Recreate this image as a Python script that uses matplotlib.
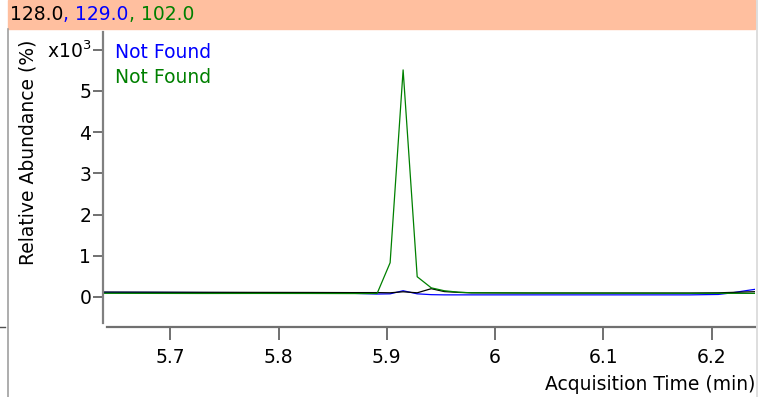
import matplotlib.pyplot as plt
from matplotlib.lines import Line2D
from matplotlib.patches import Rectangle

# retention times (min) and abundances (counts)
times = [5.631, 5.68, 5.73, 5.78, 5.83, 5.866, 5.878, 5.891, 5.903, 5.915,
         5.928, 5.941, 5.953, 5.966, 5.978, 6.03, 6.08, 6.13, 6.18, 6.206,
         6.219, 6.231, 6.244]
black_128 = [118, 115, 112, 110, 108, 105, 105, 105, 100, 125,
             100, 200, 130, 110, 100, 95, 95, 95, 95, 100,
             110, 120, 130]
blue_129 = [112, 110, 106, 104, 100, 90, 80, 70, 75, 150,
            75, 55, 50, 50, 50, 50, 50, 50, 50, 60,
            100, 150, 200]
green_102 = [88, 86, 84, 85, 84, 82, 82, 84, 830, 5510,
             490, 220, 150, 115, 100, 95, 92, 90, 88, 88,
             87, 87, 87]

xticks = [5.7, 5.8, 5.9, 6.0, 6.1, 6.2]
xlabels = ['5.7', '5.8', '5.9', '6', '6.1', '6.2']
yticks = [0, 1000, 2000, 3000, 4000, 5000, 6000]
ylabels = ['0', '1', '2', '3', '4', '5', 'x10$^3$']

W, H = 763, 397
fig = plt.figure(figsize=(W / 100, H / 100), dpi=100)
plt.rcParams['font.family'] = ['DejaVu Sans']
fs = 13.5

# axes box in pixels: x 103..755, y 32..327
ax = fig.add_axes([103 / W, 1 - 327 / H, (755 - 103) / W, (327 - 32) / H])
ax.plot(times, blue_129, color='#0000ff', lw=0.9)
ax.plot(times, black_128, color='black', lw=0.9)
ax.plot(times, green_102, color='#008000', lw=0.9)

ax.set_xlim(5.6379, 6.2399)
ax.set_ylim(-730, 6430)
ax.set_xticks(xticks)
ax.set_xticklabels(xlabels)
ax.set_yticks(yticks)
ax.set_yticklabels(ylabels)
for s in ['top', 'right']:
    ax.spines[s].set_visible(False)
ax.spines['left'].set_color('#808080')
ax.spines['left'].set_linewidth(1.6)
ax.spines['left'].set_bounds(-630, 6430)
ax.spines['bottom'].set_color('#707070')
ax.spines['bottom'].set_linewidth(1.6)
ax.spines['bottom'].set_bounds(5.6416, 6.2399)
ax.tick_params(axis='x', length=9, width=1.4, color='#707070', pad=6, labelsize=fs)
ax.tick_params(axis='y', length=7.5, width=1.4, color='#707070', pad=1, labelsize=fs)

ax.text(0.018, 0.929, 'Not Found', color='#0000ff', fontsize=fs,
        transform=ax.transAxes, va='center')
ax.text(0.018, 0.847, 'Not Found', color='#008000', fontsize=fs,
        transform=ax.transAxes, va='center')

fig.text(28 / W, 1 - 152 / H, 'Relative Abundance (%)', rotation=90,
         fontsize=fs, ha='center', va='center')
fig.text(755 / W, 1 - 385 / H, 'Acquisition Time (min)', fontsize=fs,
         ha='right', va='center')

# header band
fig.patches.append(Rectangle((8 / W, 1 - 29 / H), (755 - 8) / W, 29 / H,
                             transform=fig.transFigure, color='#ffbf9f', zorder=-1))
t1 = fig.text(10 / W, 1 - 14 / H, '128.0', fontsize=fs, va='center', color='black')
a2 = ax.annotate(', 129.0', xy=(1, 0.5), xycoords=t1, va='center', fontsize=fs,
                 color='#0000ff', annotation_clip=False)
a3 = ax.annotate(', 102.0', xy=(1, 0.5), xycoords=a2, va='center', fontsize=fs,
                 color='#008000', annotation_clip=False)

# panel borders
fig.lines.append(Line2D([8 / W, 8 / W], [0, 1 - 29 / H], transform=fig.transFigure,
                        color='#a0a0a0', lw=1.2))
fig.lines.append(Line2D([757 / W, 757 / W], [0, 1], transform=fig.transFigure,
                        color='#d8d8d8', lw=1.2))
fig.lines.append(Line2D([0, 5 / W], [1 - 327 / H, 1 - 327 / H], transform=fig.transFigure,
                        color='#505050', lw=1.0))

fig.savefig('out.png', dpi=100)
